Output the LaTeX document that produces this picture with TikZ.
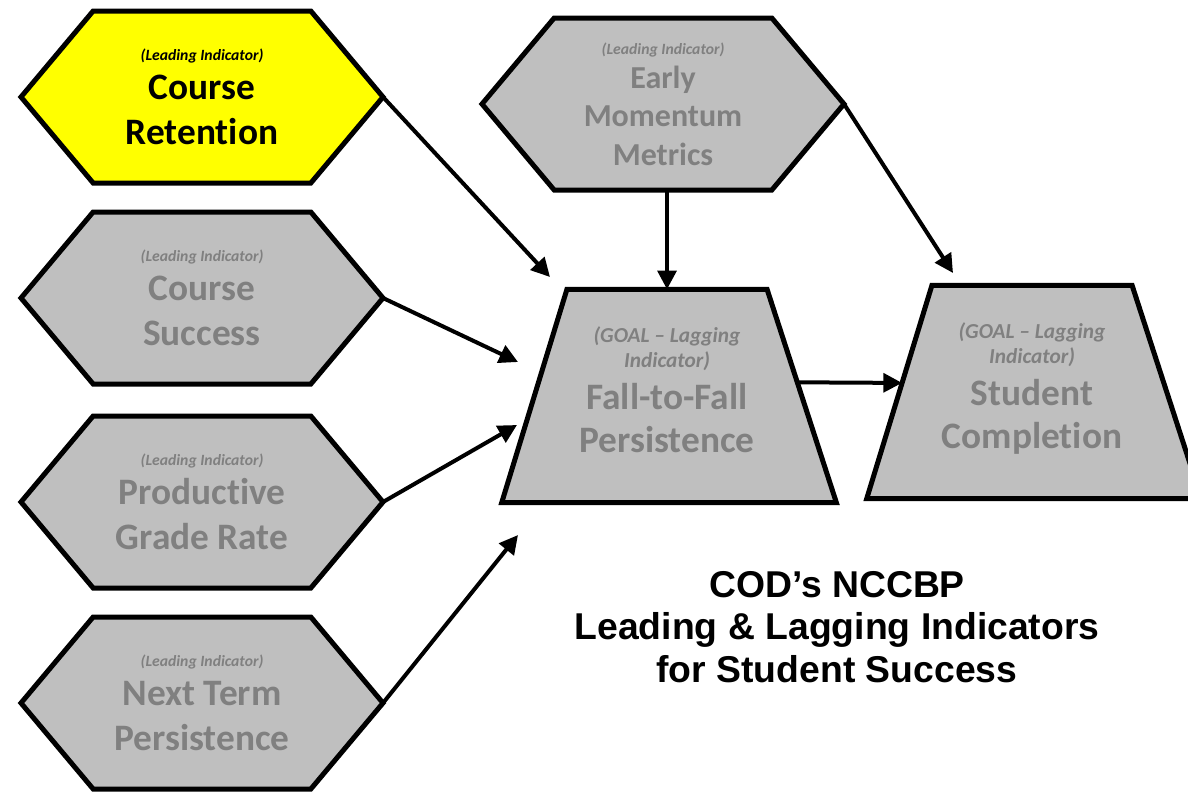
\documentclass[tikz,border=0pt]{standalone}
\usepackage{fontspec}
\setmainfont{Carlito}[Ligatures={TeX,NoCommon}]
\newfontfamily\titlefont{Liberation Sans}
\usepackage{tikz}
\usetikzlibrary{shapes.geometric, shapes.symbols, arrows.meta, positioning, calc}
\definecolor{boxgrey}{RGB}{191,191,191}
\definecolor{textgrey}{RGB}{128,128,128}
\definecolor{hiyellow}{RGB}{255,255,0}
\newcommand{\indfont}{\fontsize{11.75}{14}\selectfont\itshape}
\newcommand{\goalfont}{\fontsize{16}{19}\selectfont\itshape}

\begin{document}
\begin{tikzpicture}[
    x=0.75pt, y=-0.75pt,
    lead/.style={signal, signal to=west and east, signal pointer angle=100, draw, line width=3.75pt,
        minimum width=271.5pt, minimum height=129pt, inner sep=0pt, outer sep=0pt,
        fill=boxgrey, text=textgrey, align=center, font=\bfseries\fontsize{28}{33.75}\selectfont},
    goal/.style={trapezium, trapezium left angle=73, trapezium right angle=72, trapezium stretches body,
        draw, line width=3.75pt, minimum width=251pt, inner xsep=0pt, inner ysep=28pt, outer sep=0pt,
        fill=boxgrey, text=textgrey, align=center, font=\bfseries\fontsize{28}{32}\selectfont},
    arrow/.style={-{Triangle[length=14pt,width=14pt]}, line width=3pt}
]
    \useasboundingbox (0,0) rectangle (1188,793);
    \clip (0,0) rectangle (1188,793);
    \fill[white] (0,0) rectangle (1188,793);

    % Leading indicators
    \node[lead, fill=hiyellow, text=black] (ret) at (202,97) {{\indfont (Leading Indicator)}\\[-4.75pt]Course\\Retention};
    \node[lead] (csu) at (202,298) {{\indfont (Leading Indicator)}\\[-4.75pt]Course\\Success};
    \node[lead] (pgr) at (202,502) {{\indfont (Leading Indicator)}\\[-4.75pt]Productive\\Grade Rate};
    \node[lead] (ntp) at (202,703) {{\indfont (Leading Indicator)}\\[-4.75pt]Next Term\\Persistence};
    \node[lead, font=\bfseries\fontsize{24}{29}\selectfont] (emm) at (663,104) {{\indfont (Leading Indicator)}\\[-3.5pt]Early\\Momentum\\Metrics};

    % Lagging indicators
    \node[goal] (f2f) at (667,396) {{\goalfont (GOAL – Lagging}\\[-13pt]{\goalfont Indicator)}\\[-0.5pt]Fall-to-Fall\\Persistence\strut};
    \node[goal] (sc) at (1032,392) {{\goalfont (GOAL – Lagging}\\[-13pt]{\goalfont Indicator)}\\[-0.5pt]Student\\Completion\strut};

    % Free arrow ends
    \coordinate (t1) at (550,277);
    \coordinate (t2) at (518,362);
    \coordinate (t3) at (517,425);
    \coordinate (t4) at (518,535);
    \coordinate (t6) at (953,273);

    % Arrows
    \draw[arrow] (ret.east) -- (t1);
    \draw[arrow] (csu.east) -- (t2);
    \draw[arrow] (pgr.east) -- (t3);
    \draw[arrow] (ntp.east) -- (t4);
    \draw[arrow] (emm.south -| f2f.north) -- (f2f.north);
    \draw[arrow] (emm.east) -- (t6);
    \draw[arrow] (f2f.6) -- (sc.176);

    % Title
    \node[font=\titlefont\bfseries\fontsize{28}{32}\selectfont, align=center] (title) at (837,627) {COD’s NCCBP\\Leading \& Lagging Indicators\\for Student Success};
\end{tikzpicture}
\end{document}
